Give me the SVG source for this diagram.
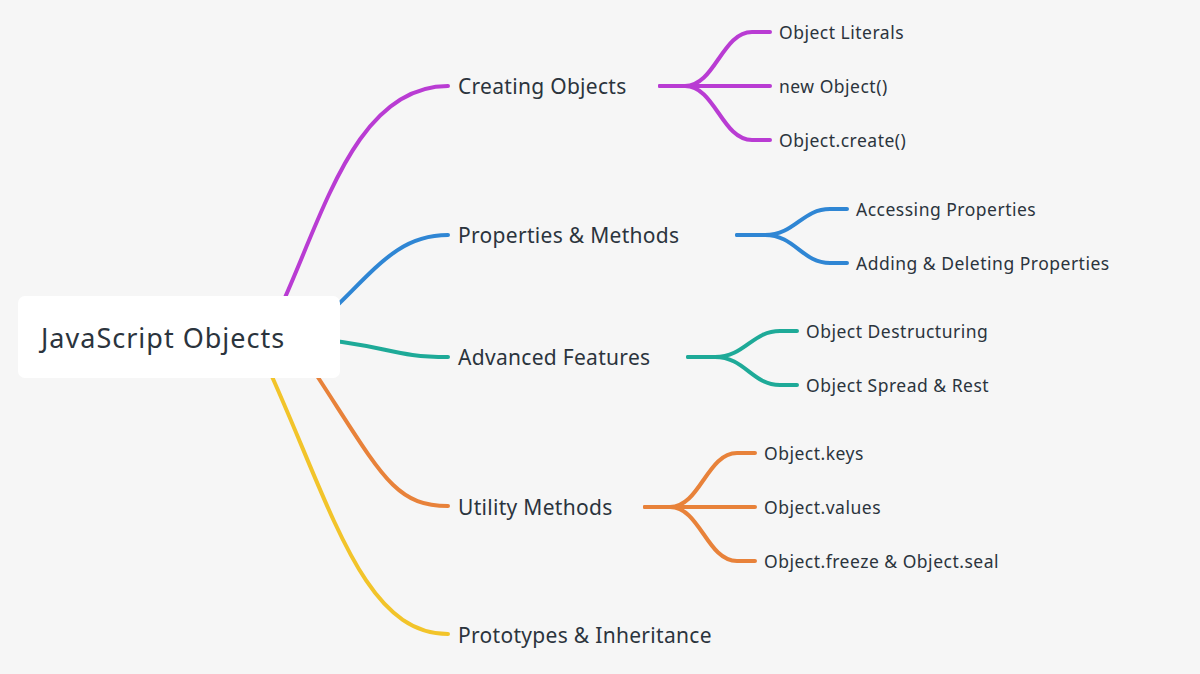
<svg xmlns="http://www.w3.org/2000/svg" width="1200" height="674" viewBox="0 0 1200 674">
<style>
.bg{fill:#f6f6f6}
.c{fill:none;stroke-width:4;stroke-linecap:round}
.m{stroke:#b93cd3}.b{stroke:#2f86d4}.t{stroke:#1eaa98}.o{stroke:#e8823a}.y{stroke:#f2c42a}
text{font-family:"Noto Sans","Liberation Sans",sans-serif;fill:#2b343d}
.l1{font-size:21px;letter-spacing:0.3px}
.l2{font-size:17.5px;letter-spacing:0.5px}
.root{font-size:27px;letter-spacing:1px}
</style>
<rect class="bg" x="0" y="0" width="1200" height="674"/>
<g id="connectors">
<path class="c m" d="M 270 330 C 320 230, 350 86, 448 86"/>
<path class="c b" d="M 300 340 C 370 280, 390 235, 448 235"/>
<path class="c t" d="M 300 337 C 390 345, 390 357, 448 357"/>
<path class="c o" d="M 300 350 C 380 470, 390 506, 448 506"/>
<path class="c y" d="M 260 350 C 330 500, 360 634, 448 634"/>
<path class="c m" d="M 660 86 H 685 C 715 86, 722 32, 752 32 H 770"/>
<path class="c m" d="M 660 86 H 770"/>
<path class="c m" d="M 660 86 H 685 C 715 86, 722 140, 752 140 H 770"/>
<path class="c b" d="M 737 235 H 765 C 795 235, 802 209, 830 209 H 847"/>
<path class="c b" d="M 737 235 H 765 C 795 235, 802 263, 830 263 H 847"/>
<path class="c t" d="M 688 357 H 715 C 745 357, 752 331, 780 331 H 797"/>
<path class="c t" d="M 688 357 H 715 C 745 357, 752 385, 780 385 H 797"/>
<path class="c o" d="M 645 507 H 670 C 700 507, 707 453, 737 453 H 755"/>
<path class="c o" d="M 645 507 H 755"/>
<path class="c o" d="M 645 507 H 670 C 700 507, 707 561, 737 561 H 755"/>
</g>
<g id="root">
<rect x="18" y="296" width="322" height="82" rx="7" fill="#ffffff"/>
<text class="root" x="41" y="348">JavaScript Objects</text>
</g>
<g id="n-creating"><text class="l1" x="458" y="94">Creating Objects</text></g>
<g id="n-properties"><text class="l1" x="458" y="243">Properties &amp; Methods</text></g>
<g id="n-advanced"><text class="l1" x="458" y="365">Advanced Features</text></g>
<g id="n-utility"><text class="l1" x="458" y="515">Utility Methods</text></g>
<g id="n-prototypes"><text class="l1" x="458" y="643">Prototypes &amp; Inheritance</text></g>
<g id="n-literals"><text class="l2" x="779" y="39">Object Literals</text></g>
<g id="n-newobject"><text class="l2" x="779" y="93">new Object()</text></g>
<g id="n-create"><text class="l2" x="779" y="147">Object.create()</text></g>
<g id="n-accessing"><text class="l2" x="856" y="216">Accessing Properties</text></g>
<g id="n-adding"><text class="l2" x="856" y="270">Adding &amp; Deleting Properties</text></g>
<g id="n-destructuring"><text class="l2" x="806" y="338">Object Destructuring</text></g>
<g id="n-spread"><text class="l2" x="806" y="392">Object Spread &amp; Rest</text></g>
<g id="n-keys"><text class="l2" x="764" y="460">Object.keys</text></g>
<g id="n-values"><text class="l2" x="764" y="514">Object.values</text></g>
<g id="n-freeze"><text class="l2" x="764" y="568">Object.freeze &amp; Object.seal</text></g>
</svg>
